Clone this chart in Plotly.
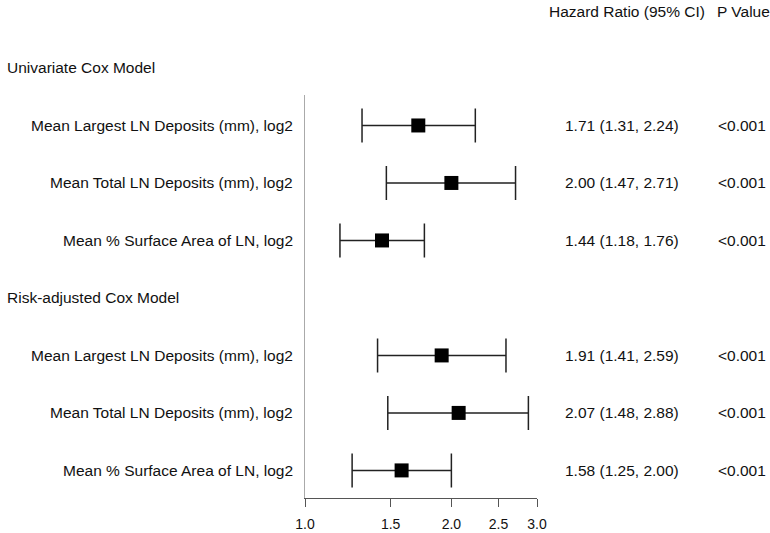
import plotly.graph_objects as go

groups = ["Univariate Cox Model", "Risk-adjusted Cox Model"]
labels = ["Mean Largest LN Deposits (mm), log2",
          "Mean Total LN Deposits (mm), log2",
          "Mean % Surface Area of LN, log2"]
hr_uni = [1.71, 2.00, 1.44]
lo_uni = [1.31, 1.47, 1.18]
hi_uni = [2.24, 2.71, 1.76]
hr_adj = [1.91, 2.07, 1.58]
lo_adj = [1.41, 1.48, 1.25]
hi_adj = [2.59, 2.88, 2.00]
pvals = ["<0.001"] * 6
tick_vals = [1.0, 1.5, 2.0, 2.5, 3.0]
tick_text = ["1.0", "1.5", "2.0", "2.5", "3.0"]

hr = hr_uni + hr_adj
lo = lo_uni + lo_adj
hi = hi_uni + hi_adj
rows = [1, 2, 3, 5, 6, 7]
header_rows = [0, 4]
row_labels = labels + labels

Y_RANGE = [7.48, 0.47]


def to_paper(r):
    return (Y_RANGE[0] - r) / (Y_RANGE[0] - Y_RANGE[1])


FONT = "Liberation Sans, Arial, sans-serif"
FS = 15.5
TXT = "#111111"
fig = go.Figure()
fig.add_trace(go.Scatter(
    x=hr, y=rows, mode="markers",
    marker=dict(symbol="square", size=14, color="black"),
    error_x=dict(type="data", symmetric=False,
                 array=[h - m for h, m in zip(hi, hr)],
                 arrayminus=[m - l for m, l in zip(hr, lo)],
                 color="#222222", thickness=1.5, width=17),
    showlegend=False, hoverinfo="skip"))

ann = []
for r, t in zip(rows, row_labels):
    ann.append(dict(x=-0.043, y=to_paper(r), xref="paper", yref="paper", text=t,
                    xanchor="right", yanchor="middle", showarrow=False,
                    font=dict(size=FS, color=TXT)))
for r, h, l, u, p in zip(rows, hr, lo, hi, pvals):
    ann.append(dict(x=1.366, y=to_paper(r), xref="paper", yref="paper",
                    text=f"{h:.2f} ({l:.2f}, {u:.2f})",
                    xanchor="center", yanchor="middle", showarrow=False,
                    font=dict(size=FS, color=TXT)))
    ann.append(dict(x=1.885, y=to_paper(r), xref="paper", yref="paper", text=p,
                    xanchor="center", yanchor="middle", showarrow=False,
                    font=dict(size=FS, color=TXT)))
for r, g in zip(header_rows, groups):
    ann.append(dict(x=-1.293, y=to_paper(r), xref="paper", yref="paper", text=g,
                    xanchor="left", yanchor="middle", showarrow=False,
                    font=dict(size=FS, color=TXT)))
ann.append(dict(x=1.388, y=to_paper(-0.99), xref="paper", yref="paper",
                text="Hazard Ratio (95% CI)",
                xanchor="center", yanchor="middle", showarrow=False,
                font=dict(size=FS, color=TXT)))
ann.append(dict(x=1.89, y=to_paper(-0.99), xref="paper", yref="paper", text="P Value",
                xanchor="center", yanchor="middle", showarrow=False,
                font=dict(size=FS, color=TXT)))

fig.update_layout(
    width=770, height=533,
    margin=dict(l=305, r=233, t=95, b=35),
    paper_bgcolor="white", plot_bgcolor="white",
    font=dict(family=FONT, size=FS, color=TXT),
    annotations=ann,
    xaxis=dict(type="log", range=[0, 0.4771], tickvals=tick_vals, ticktext=tick_text,
               showgrid=False, zeroline=False, showline=True, linecolor="#555",
               linewidth=1.2, ticks="outside", ticklen=8, tickcolor="#555",
               ticklabelstandoff=5, automargin=False,
               tickfont=dict(size=14, color=TXT)),
    yaxis=dict(range=Y_RANGE, showgrid=False, zeroline=False, automargin=False,
               showticklabels=False, showline=True, linecolor="#aaa",
               linewidth=1.2, ticks=""),
)
fig.write_html("out.html",
               config={"displayModeBar": False},
               post_script="document.body.style.margin='0';"
                           "document.body.style.overflow='hidden';")
